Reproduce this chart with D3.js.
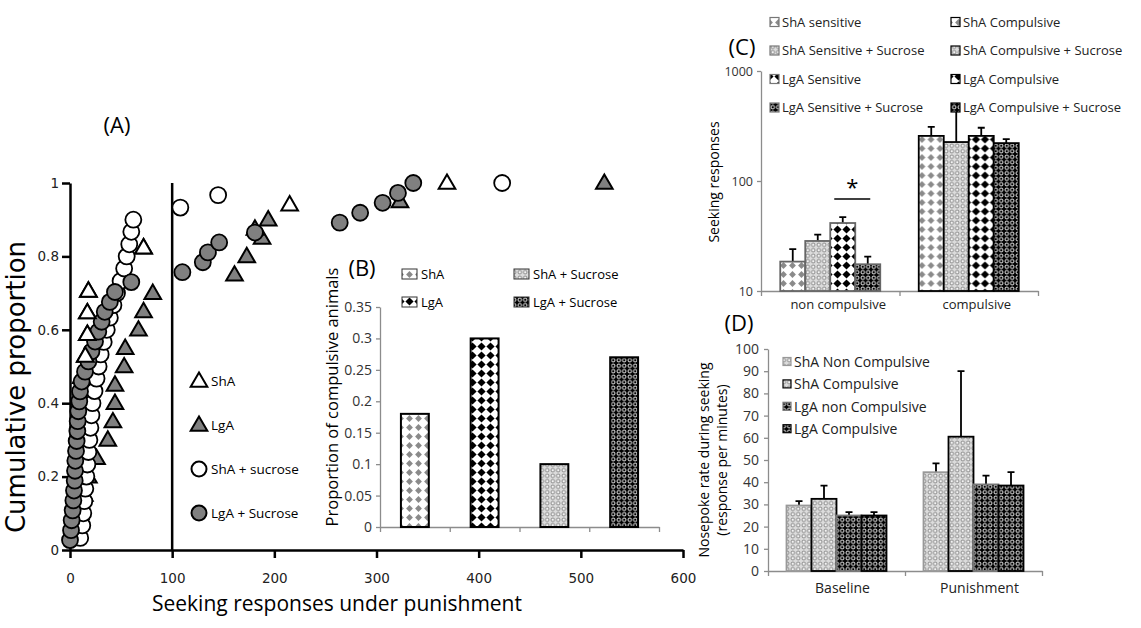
<!DOCTYPE html>
<html>
<head>
<meta charset="utf-8">
<script src="https://cdn.jsdelivr.net/npm/d3@7"></script>
<style>
body{margin:0;background:#fff}
svg text{font-family:"Open Sans",sans-serif}
</style>
</head>
<body>
<svg id="fig" width="1141" height="628"></svg>
<script>
// ---- panel A: cumulative proportion vs seeking responses
var shaResp = [4,5,6,7,8,9,10,11,15,17,17,18,72,215,369]
var shaProp = [0.059,0.118,0.176,0.235,0.294,0.353,0.412,0.471,0.529,0.588,0.647,0.706,0.824,0.941,1]
var lgaResp = [8,10,14,18,26,37,42,44,44,53,54,67,72,81,161,173,188,181,194,323,523]
var lgaProp = [0.05,0.1,0.15,0.2,0.25,0.3,0.35,0.4,0.45,0.5,0.55,0.6,0.65,0.7,0.75,0.8,0.85,0.875,0.9,0.95,1]
var shaSucResp = [10,12,13,14,15,16,17,18,19,20,21,22,24,26,28,30,33,36,39,42.5,46,49.5,53,55.5,58,60,62,108,145,423]
var shaSucProp = [0.033,0.067,0.1,0.133,0.167,0.2,0.233,0.267,0.3,0.333,0.367,0.4,0.433,0.467,0.5,0.533,0.567,0.6,0.633,0.667,0.7,0.733,0.767,0.8,0.833,0.867,0.9,0.933,0.967,1]
var lgaSucResp = [0,1,1.6,2.6,3.3,3.9,4.6,4.9,5.2,5.9,6.5,7.2,7.5,8.1,9.1,9.8,11.4,14.7,18,21,24.5,27.7,31,34,39,44,60,110,130,135,146,181,264,284,306,321,336]
var lgaSucProp = [0.027,0.054,0.081,0.108,0.135,0.162,0.189,0.216,0.243,0.27,0.297,0.324,0.351,0.378,0.405,0.432,0.459,0.486,0.514,0.541,0.568,0.595,0.622,0.649,0.676,0.703,0.73,0.757,0.784,0.811,0.838,0.865,0.892,0.919,0.946,0.973,1]
var aXTicks = [0,100,200,300,400,500,600]
var aYTicks = [0,0.2,0.4,0.6,0.8,1]
var aLegend = ['ShA','LgA','ShA + sucrose','LgA + Sucrose']

// ---- panel B: proportion of compulsive animals
var bGroups = ['ShA','LgA','ShA + Sucrose','LgA + Sucrose']
var bValues = [0.18,0.30,0.10,0.27]
var bYTicks = [0,0.05,0.1,0.15,0.2,0.25,0.3,0.35]

// ---- panel C: seeking responses (log)
var cGroups = ['non compulsive','compulsive']
var cSeries = ['ShA','ShA + Sucrose','LgA','LgA + Sucrose']
var cMean = [[18.5,28.5,41.5,17.5],[257,226,257,221]]
var cErr = [[24,32.5,47,20.5],[310,440,305,240]]
var cYTicks = [10,100,1000]
var cLegend = ['ShA sensitive','ShA Sensitive + Sucrose','LgA Sensitive','LgA Sensitive + Sucrose',
	'ShA Compulsive','ShA Compulsive + Sucrose','LgA Compulsive','LgA Compulsive + Sucrose']

// ---- panel D: nosepoke rate
var dGroups = ['Baseline','Punishment']
var dSeries = ['ShA Non Compulsive','ShA Compulsive','LgA non Compulsive','LgA Compulsive']
var dMean = [[29.5,32.5,25,25],[44.5,60.5,39,38.5]]
var dErr = [[31.5,38.5,26.5,26.5],[48.5,90,43,44.5]]
var dYTicks = [0,10,20,30,40,50,60,70,80,90,100]

var svg = d3.select('#fig')
svg.append('rect').attr('width',1141).attr('height',628).attr('fill','#fff')
var defs = svg.append('defs')

function diamonds(id,color,inset,s){
	var p = defs.append('pattern').attr('id',id)
		.attr('patternUnits','userSpaceOnUse').attr('width',s).attr('height',s)
	p.append('rect').attr('width',s).attr('height',s).attr('fill','#fff')
	p.append('polygon')
		.attr('points',[[s/2,inset],[s-inset,s/2],[s/2,s-inset],[inset,s/2]].join(' '))
		.attr('fill',color)
}
function dots(id,bg,ring,fill,s){
	var p = defs.append('pattern').attr('id',id)
		.attr('patternUnits','userSpaceOnUse').attr('width',s).attr('height',s)
	p.append('rect').attr('width',s).attr('height',s).attr('fill',bg)
	p.append('circle').attr('cx',s/2).attr('cy',s/2).attr('r',s*0.33)
		.attr('fill',fill).attr('stroke',ring).attr('stroke-width',0.9)
}
diamonds('diaGray','#8a8a8a',1.1,9)
diamonds('diaBlack','#000',0.4,9)
dots('dotGray','#dcdcdc','#808080','#f4f4f4',5.5)
dots('dotBlack','#000','#fff','#000',5.5)
// order: ShA, ShA + Sucrose, LgA, LgA + Sucrose
var fills = ['url(#diaGray)','url(#dotGray)','url(#diaBlack)','url(#dotBlack)']
var bFills = ['url(#diaGray)','url(#diaBlack)','url(#dotGray)','url(#dotBlack)']

function label(x,y,t,size,opts){
	opts = opts || {}
	var el = svg.append('text').attr('x',x).attr('y',y).text(t)
		.style('font-size',size+'px').attr('fill',opts.fill || '#000')
		.attr('text-anchor',opts.anchor || 'start')
	if (opts.family) el.style('font-family',opts.family)
	if (opts.rotate) el.attr('transform','rotate(-90,'+x+','+y+')')
	return el
}

// ================= PANEL A =================
var xa = d3.scaleLinear().domain([0,600]).range([70,683])
var ya = d3.scaleLinear().domain([0,1]).range([550,183])

var axA = svg.append('g').attr('transform','translate(0,550)')
	.call(d3.axisBottom(xa).tickValues(aXTicks).tickSize(8).tickPadding(15).tickSizeOuter(0))
var ayA = svg.append('g').attr('transform','translate(70,0)')
	.call(d3.axisLeft(ya).tickValues(aYTicks).tickSize(8).tickPadding(3).tickSizeOuter(0)
		.tickFormat(function(d){ return String(+d.toFixed(1)) }))
;[axA,ayA].forEach(function(g){
	g.select('.domain').attr('stroke','#000').attr('stroke-width',2.5)
	g.selectAll('.tick line').attr('stroke','#000').attr('stroke-width',2.5)
	g.selectAll('.tick text').style('font-family','"DejaVu Sans"').style('font-size','13.5px').attr('fill','#222')
})
svg.append('line').attr('x1',xa(100)).attr('x2',xa(100)).attr('y1',ya(1)).attr('y2',ya(0))
	.attr('stroke','#000').attr('stroke-width',2.5)

var tri = d3.symbol().type(d3.symbolTriangle).size(120)
function circles(resp,prop,fill){
	svg.append('g').selectAll('circle').data(resp).enter().append('circle')
		.attr('cx',function(d){ return xa(d) })
		.attr('cy',function(d,i){ return ya(prop[i]) })
		.attr('r',8).attr('fill',fill).attr('stroke','#000').attr('stroke-width',1.8)
}
function triangles(resp,prop,fill){
	svg.append('g').selectAll('path').data(resp).enter().append('path')
		.attr('d',tri)
		.attr('transform',function(d,i){ return 'translate('+xa(d)+','+(ya(prop[i])+1)+')' })
		.attr('fill',fill).attr('stroke','#000').attr('stroke-width',2)
}
triangles(lgaResp,lgaProp,'#808080')
triangles(shaResp,shaProp,'#fff')
circles(shaSucResp,shaSucProp,'#fff')
circles(lgaSucResp,lgaSucProp,'#808080')
// the upper ShA triangles sit in front of the circles in the picture
triangles(shaResp.slice(8,13),shaProp.slice(8,13),'#fff')

// legend A
aLegend.forEach(function(t,i){
	var y = 381 + i*44
	if (i < 2) {
		svg.append('path').attr('d',tri).attr('transform','translate(199,'+(y+1)+')')
			.attr('fill',i ? '#808080' : '#fff').attr('stroke','#000').attr('stroke-width',2)
	} else {
		svg.append('circle').attr('cx',199).attr('cy',y).attr('r',7.5)
			.attr('fill',i === 3 ? '#808080' : '#fff').attr('stroke','#000').attr('stroke-width',2)
	}
	label(211,y+5,t,13.5)
})

label(117,133,'(A)',22,{anchor:'middle'})
label(25,387,'Cumulative proportion',26,{anchor:'middle',rotate:true,family:'"DejaVu Sans"'})
label(337,611,'Seeking responses under punishment',21,{anchor:'middle'})

// ================= PANEL B =================
var xbLin = d3.scaleLinear().domain([0,4]).range([380,659])
var xb = d3.scaleBand().domain(bGroups).range([380,659]).paddingInner(0.6).paddingOuter(0.3)
var yb = d3.scaleLinear().domain([0,0.35]).range([527,307])
var gbx = svg.append('g').attr('transform','translate(0,527)')
	.call(d3.axisBottom(xbLin).tickValues([0,1,2,3,4]).tickFormat('').tickSize(5).tickSizeOuter(0))
var gby = svg.append('g').attr('transform','translate(380,0)')
	.call(d3.axisLeft(yb).tickValues(bYTicks).tickSize(4).tickPadding(4).tickSizeOuter(0)
		.tickFormat(function(d){ return String(+d.toFixed(2)) }))
;[gbx,gby].forEach(function(g){
	g.select('.domain').attr('stroke','#8c8c8c').attr('stroke-width',1.3)
	g.selectAll('.tick line').attr('stroke','#8c8c8c').attr('stroke-width',1.3)
	g.selectAll('.tick text').style('font-size','14px').attr('fill','#333')
})
svg.append('g').selectAll('rect').data(bValues).enter().append('rect')
	.attr('x',function(d,i){ return xb(bGroups[i]) })
	.attr('y',function(d){ return yb(d) })
	.attr('width',xb.bandwidth())
	.attr('height',function(d){ return yb(0) - yb(d) })
	.attr('fill',function(d,i){ return bFills[i] })
	.attr('stroke','#000').attr('stroke-width',2)
label(362,276,'(B)',22,{anchor:'middle'})
label(338,397,'Proportion of compulsive animals',16.5,{anchor:'middle',rotate:true})
bGroups.forEach(function(t,i){
	var x = i < 2 ? 402 : 514
	var y = 274 + (i % 2)*28
	svg.append('rect').attr('x',x).attr('y',y-5).attr('width',15).attr('height',10)
		.attr('fill',bFills[i]).attr('stroke','#333').attr('stroke-width',1)
	label(x+19,y+4.5,t,13)
})

// ================= PANEL C =================
var x0c = d3.scaleBand().domain(cGroups).range([761,1038])
var x1c = d3.scaleBand().domain(cSeries).range([0,x0c.bandwidth()]).paddingOuter(0.77)
var yc = d3.scaleLog().domain([10,1000]).range([291,71])
var gcx = svg.append('g').attr('transform','translate(0,291)')
	.call(d3.axisBottom(d3.scaleLinear().domain([0,2]).range([761,1038]))
		.tickValues([0,1,2]).tickFormat('').tickSize(5).tickSizeOuter(0))
var gcy = svg.append('g').attr('transform','translate(761,0)')
	.call(d3.axisLeft(yc).tickValues(cYTicks).tickFormat(d3.format('d')).tickSize(4).tickPadding(4).tickSizeOuter(0))
;[gcx,gcy].forEach(function(g){
	g.select('.domain').attr('stroke','#8c8c8c').attr('stroke-width',1.3)
	g.selectAll('.tick line').attr('stroke','#8c8c8c').attr('stroke-width',1.3)
	g.selectAll('.tick text').style('font-size','12.5px').attr('fill','#333')
})
cGroups.forEach(function(grp,gi){
	var g = svg.append('g').attr('transform','translate('+x0c(grp)+',0)')
	g.selectAll('path').data(cErr[gi]).enter().append('path')
		.attr('d',function(d,i){
			var cx = x1c(cSeries[i]) + x1c.bandwidth()/2
			return 'M'+cx+','+yc(cMean[gi][i])+'V'+yc(d)+'M'+(cx-3.5)+','+yc(d)+'H'+(cx+3.5)
		})
		.attr('stroke','#000').attr('stroke-width',1.8).attr('fill','none')
	g.selectAll('rect').data(cMean[gi]).enter().append('rect')
		.attr('x',function(d,i){ return x1c(cSeries[i]) })
		.attr('y',function(d){ return yc(d) })
		.attr('width',x1c.bandwidth())
		.attr('height',function(d){ return yc(10) - yc(d) })
		.attr('fill',function(d,i){ return fills[i] })
		.attr('stroke',gi ? '#000' : '#666').attr('stroke-width',1.8)
	label(x0c(grp) + x0c.bandwidth()/2 + 8, 309, grp, 13, {anchor:'middle',fill:'#222'})
})
// significance bar
var sx1 = x0c('non compulsive') + x1c('LgA') + 4, sx2 = x0c('non compulsive') + x1c('LgA + Sucrose') + x1c.bandwidth() - 10
svg.append('line').attr('x1',sx1).attr('x2',sx2).attr('y1',199).attr('y2',199).attr('stroke','#000').attr('stroke-width',1.5)
label((sx1+sx2)/2,195,'*',22,{anchor:'middle'})
label(742,55,'(C)',22,{anchor:'middle'})
label(719,182,'Seeking responses',14,{anchor:'middle',rotate:true})
cLegend.forEach(function(t,i){
	var col = Math.floor(i/4), row = i % 4
	var x = 770 + col*181, y = 22 + row*28.5
	svg.append('rect').attr('x',x).attr('y',y-4.5).attr('width',9).attr('height',9)
		.attr('fill',fills[row]).attr('stroke',col ? '#000' : '#777').attr('stroke-width',1.2)
	label(x+12,y+4.5,t,13,{fill:'#222'})
})

// ================= PANEL D =================
var x0d = d3.scaleBand().domain(dGroups).range([768,1042])
var x1d = d3.scaleBand().domain(dSeries).range([0,x0d.bandwidth()]).paddingOuter(0.74)
var yd = d3.scaleLinear().domain([0,100]).range([571,349])
var gdx = svg.append('g').attr('transform','translate(0,571)')
	.call(d3.axisBottom(d3.scaleLinear().domain([0,2]).range([768,1042]))
		.tickValues([0,1,2]).tickFormat('').tickSize(5).tickSizeOuter(0))
var gdy = svg.append('g').attr('transform','translate(768,0)')
	.call(d3.axisLeft(yd).tickValues(dYTicks).tickSize(4).tickPadding(5).tickSizeOuter(0))
;[gdx,gdy].forEach(function(g){
	g.select('.domain').attr('stroke','#8c8c8c').attr('stroke-width',1.3)
	g.selectAll('.tick line').attr('stroke','#8c8c8c').attr('stroke-width',1.3)
	g.selectAll('.tick text').style('font-size','14px').attr('fill','#333')
})
var dFills = ['url(#dotGray)','url(#dotGray)','url(#dotBlack)','url(#dotBlack)']
var dStroke = ['#999','#000','#777','#000']
dGroups.forEach(function(grp,gi){
	var g = svg.append('g').attr('transform','translate('+x0d(grp)+',0)')
	g.selectAll('path').data(dErr[gi]).enter().append('path')
		.attr('d',function(d,i){
			var cx = x1d(dSeries[i]) + x1d.bandwidth()/2
			return 'M'+cx+','+yd(dMean[gi][i])+'V'+yd(d)+'M'+(cx-3.5)+','+yd(d)+'H'+(cx+3.5)
		})
		.attr('stroke','#000').attr('stroke-width',1.8).attr('fill','none')
	g.selectAll('rect').data(dMean[gi]).enter().append('rect')
		.attr('x',function(d,i){ return x1d(dSeries[i]) })
		.attr('y',function(d){ return yd(d) })
		.attr('width',x1d.bandwidth())
		.attr('height',function(d){ return yd(0) - yd(d) })
		.attr('fill',function(d,i){ return dFills[i] })
		.attr('stroke',function(d,i){ return dStroke[i] }).attr('stroke-width',1.8)
	label(x0d(grp) + x0d.bandwidth()/2 + 6, 593, grp, 14, {anchor:'middle',fill:'#222'})
})
dSeries.forEach(function(t,i){
	var y = 362 + i*22.4
	svg.append('rect').attr('x',783).attr('y',y-4.5).attr('width',8).attr('height',8)
		.attr('fill',dFills[i]).attr('stroke',dStroke[i]).attr('stroke-width',1.2)
	label(794,y+5,t,14,{fill:'#222'})
})
label(739,331,'(D)',22,{anchor:'middle'})
label(709,460,'Nosepoke rate during seeking',14,{anchor:'middle',rotate:true})
label(727,460,'(response per minutes)',14,{anchor:'middle',rotate:true})
</script>
</body>
</html>
